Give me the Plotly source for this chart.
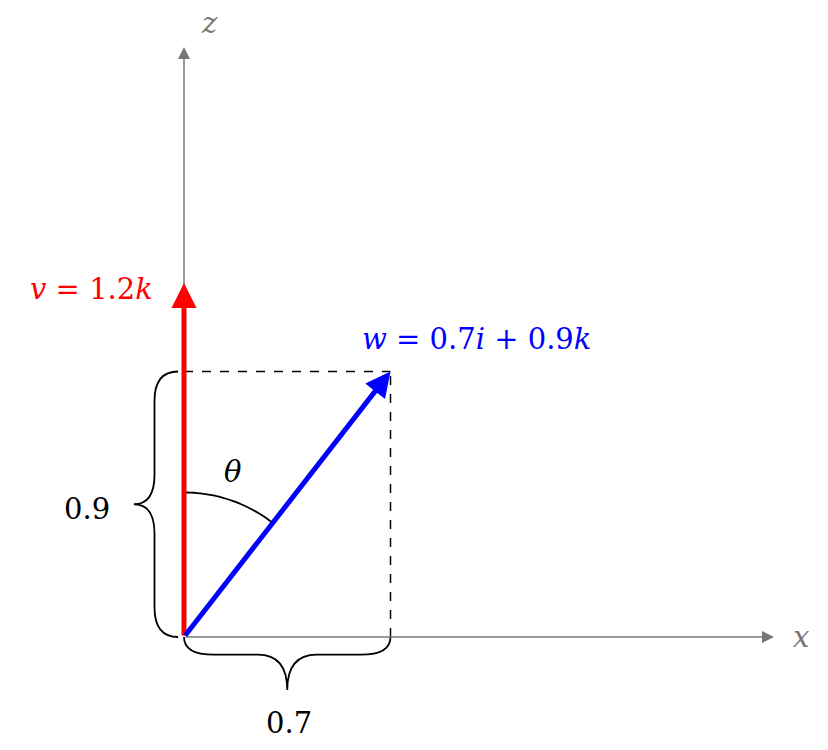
import numpy as np
import plotly.graph_objects as go

# vectors (x, z components)
v_vec = [0.0, 1.2]
w_vec = [0.7, 0.9]
axis_len = [2.0, 2.0]

# label texts
v_label = "<i>v</i> = 1.2<i>k</i>"
w_label = "<i>w</i> = 0.7<i>i</i> + 0.9<i>k</i>"
x_brace_label = "0.7"
z_brace_label = "0.9"

SCALE = 295.0
OX, OY = 176.0, 629.0
W, H = 828, 750
FONT = "DejaVu Serif"

fig = go.Figure()
fig.add_trace(go.Scatter(x=[0], y=[0], mode="markers", marker=dict(opacity=0), showlegend=False, hoverinfo="skip"))

shapes = []
annos = []

def arrow(x0, y0, x1, y1, color, width, head, size):
    annos.append(dict(x=x1, y=y1, ax=x0, ay=y0, xref="x", yref="y", axref="x", ayref="y",
                      showarrow=True, arrowhead=head, arrowsize=size, arrowwidth=width,
                      arrowcolor=color, text=""))

# axes
arrow(0, 0, axis_len[0], 0, "#777777", 1.5, 2, 1.6)
arrow(0, 0, 0, axis_len[1], "#777777", 1.5, 2, 1.6)

# dashed projection lines
shapes.append(dict(type="line", x0=0, y0=w_vec[1], x1=w_vec[0], y1=w_vec[1], xref="x", yref="y",
                   line=dict(color="black", width=1.5, dash="dash")))
shapes.append(dict(type="line", x0=w_vec[0], y0=0, x1=w_vec[0], y1=w_vec[1], xref="x", yref="y",
                   line=dict(color="black", width=1.5, dash="dash")))

# vectors
arrow(0, 0, v_vec[0], v_vec[1], "red", 5, 2, 1.0)
arrow(0, 0, w_vec[0], w_vec[1], "blue", 5, 2, 1.0)

# theta arc
r = 0.49
ang_w = np.arctan2(w_vec[0], w_vec[1])
t = np.linspace(0, ang_w, 30)
arc = "M " + " L ".join(f"{r*np.sin(a):.4f},{r*np.cos(a):.4f}" for a in t)
shapes.append(dict(type="path", path=arc, xref="x", yref="y", line=dict(color="black", width=1.8)))

# braces
def vbrace(x0, ya, yb, xt):
    d, rr = 0.08, 0.1
    ym = (ya + yb) / 2
    return (f"M {x0+d},{ya} Q {x0},{ya} {x0},{ya+rr} L {x0},{ym-rr} Q {x0},{ym} {xt},{ym} "
            f"Q {x0},{ym} {x0},{ym+rr} L {x0},{yb-rr} Q {x0},{yb} {x0+d},{yb}")

def hbrace(y0, xa, xb, yt):
    d, rr = 0.06, 0.1
    xm = (xa + xb) / 2
    return (f"M {xa},{y0+d} Q {xa},{y0} {xa+rr},{y0} L {xm-rr},{y0} Q {xm},{y0} {xm},{yt} "
            f"Q {xm},{y0} {xm+rr},{y0} L {xb-rr},{y0} Q {xb},{y0} {xb},{y0+d}")

shapes.append(dict(type="path", path=vbrace(-0.1, 0, w_vec[1], -0.17), xref="x", yref="y",
                   line=dict(color="black", width=1.8)))
shapes.append(dict(type="path", path=hbrace(-0.06, 0, w_vec[0], -0.18), xref="x", yref="y",
                   line=dict(color="black", width=1.8)))

def label(x, y, text, color="black", size=29):
    annos.append(dict(x=x, y=y, xref="x", yref="y", text=text, showarrow=False,
                      font=dict(family=FONT, size=size, color=color)))

label(2.09, 0, "<i>x</i>", "#777777")
label(0.085, 2.08, "<i>z</i>", "#777777")
label(-0.315, 1.18, v_label, "red")
label(0.99, 1.01, w_label, "blue")
label(0.166, 0.56, "<i>θ</i>")
label(-0.33, 0.434, z_brace_label)
label(0.356, -0.29, x_brace_label)

fig.update_layout(
    width=W, height=H, margin=dict(l=0, r=0, t=0, b=0),
    plot_bgcolor="white", paper_bgcolor="white", showlegend=False,
    xaxis=dict(range=[-OX / SCALE, (W - OX) / SCALE], visible=False, fixedrange=True),
    yaxis=dict(range=[-(H - OY) / SCALE, OY / SCALE], visible=False, fixedrange=True),
    shapes=shapes, annotations=annos,
)

fig.write_html("out.html")
